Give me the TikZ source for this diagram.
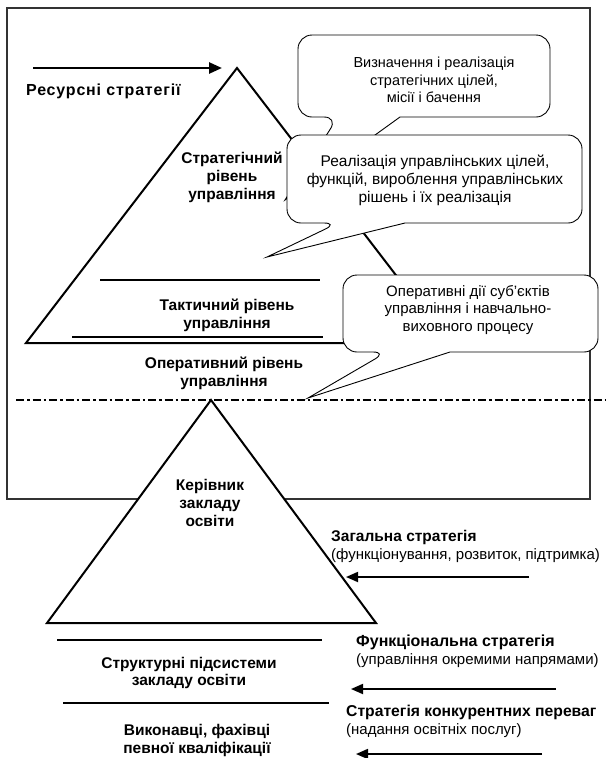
\documentclass[tikz,border=0pt]{standalone}
\usepackage{fontspec}
\setmainfont{Liberation Sans}
\usetikzlibrary{arrows.meta}
\begin{document}
\begin{tikzpicture}[x=1pt,y=-1pt,
  lvl/.style={font=\fontsize{15.5}{17.8}\selectfont\bfseries, align=center, inner sep=0pt},
  txt/.style={font=\fontsize{14.5}{17.5}\selectfont, align=center, inner sep=0pt},
  lab/.style={font=\fontsize{15}{18}\selectfont, align=left, inner sep=0pt, anchor=west},
  edge/.style={line width=2pt, line join=miter, fill=white},
  bar/.style={line width=2pt},
  callout/.style={draw, fill=white, line width=0.9pt, rounded corners=14pt},
  bigarrow/.style={line width=2.6pt, -{Triangle[length=13pt,width=11pt]}},
  smallarrow/.style={line width=1.8pt, -{Triangle[length=12pt,width=10pt]}},
]
\useasboundingbox (0,0) rectangle (608,758);
\fill[white] (0,0) rectangle (608,758);

% frame
\draw[line width=1.1pt, draw=black!80] (7,8) rectangle (590,499);

% upper pyramid
\draw[edge] (237,68) -- (26,343) -- (448,343) -- cycle;
\draw[bar] (100,280) -- (320,280);
\draw[bar] (72,337) -- (323,337);

% callouts
\draw[callout] (298,76) -- (298,117) -- (338,117) [sharp corners] -- (285,200) -- (400,117) [rounded corners=14pt] -- (550,117) -- (550,35) -- (298,35) -- cycle;
\draw[callout] (287,180) -- (287,223) -- (338,223) [sharp corners] -- (267,257) -- (405,223) [rounded corners=14pt] -- (582,223) -- (582,135) -- (287,135) -- cycle;
\draw[callout] (343,314) -- (343,352) -- (387,352) [sharp corners] -- (308,398) -- (450,352) [rounded corners=14pt] -- (598,352) -- (598,275) -- (343,275) -- cycle;

\node[txt] (c1) at (434,80) {Визначення і реалізація\\стратегічних цілей,\\місії і бачення};
\node[txt, font=\fontsize{15.5}{18}\selectfont] (c2) at (435,180) {Реалізація управлінських цілей,\\функцій, вироблення управлінських\\рішень і їх реалізація};
\node[txt, font=\fontsize{15}{17.5}\selectfont] (c3) at (468,310) {Оперативні дії суб'єктів\\управління і навчально-\\виховного процесу};

% level labels
\node[lvl, font=\fontsize{16}{18}\selectfont\bfseries\addfontfeature{LetterSpace=5}, anchor=base west] (res) at (26,95) {Ресурсні стратегії};
\node[lvl] (str) at (232,177.5) {Стратегічний\\рівень\\управління};
\node[lvl] (tak) at (227,315) {Тактичний рівень\\управління};
\node[lvl] (op) at (224,373) {Оперативний рівень\\управління};

% arrow top
\coordinate (a0) at (33,68);
\coordinate (a1) at (222,68);
\draw[bigarrow] (a0) -- (a1);

% dash-dot separator
\draw[line width=2.5pt, dash pattern=on 8pt off 3pt on 2.5pt off 3pt] (16,400) -- (605,400);

% lower pyramid
\draw[edge] (211,400) -- (47,623) -- (376,623) -- cycle;
\draw[bar] (57,640) -- (322,640);
\draw[bar] (63,703) -- (329,703);

\node[lvl] (ker) at (210,503) {Керівник\\закладу\\освіти};
\node[lvl] (sub) at (189,673) {Структурні підсистеми\\закладу освіти};
\node[lvl] (vyk) at (197,740.5) {Виконавці, фахівці\\певної кваліфікації};

% right labels
\node[lab] (zag) at (331,546) {{\fontsize{15.5}{18}\selectfont\bfseries Загальна стратегія}\\(функціонування, розвиток, підтримка)};
\node[lab] (fun) at (356,651) {{\fontsize{16}{18}\selectfont\bfseries Функціональна стратегія}\\(управління окремими напрямами)};
\node[lab] (kon) at (346,721.5) {{\fontsize{15.7}{18}\selectfont\bfseries Стратегія конкурентних переваг}\\(надання освітніх послуг)};

\coordinate (b0) at (529,577); \coordinate (b1) at (346,577);
\coordinate (d0) at (556,689); \coordinate (d1) at (351,689);
\coordinate (e0) at (542,754); \coordinate (e1) at (356,754);
\draw[smallarrow] (b0) -- (b1);
\draw[smallarrow] (d0) -- (d1);
\draw[smallarrow] (e0) -- (e1);
\end{tikzpicture}
\end{document}
